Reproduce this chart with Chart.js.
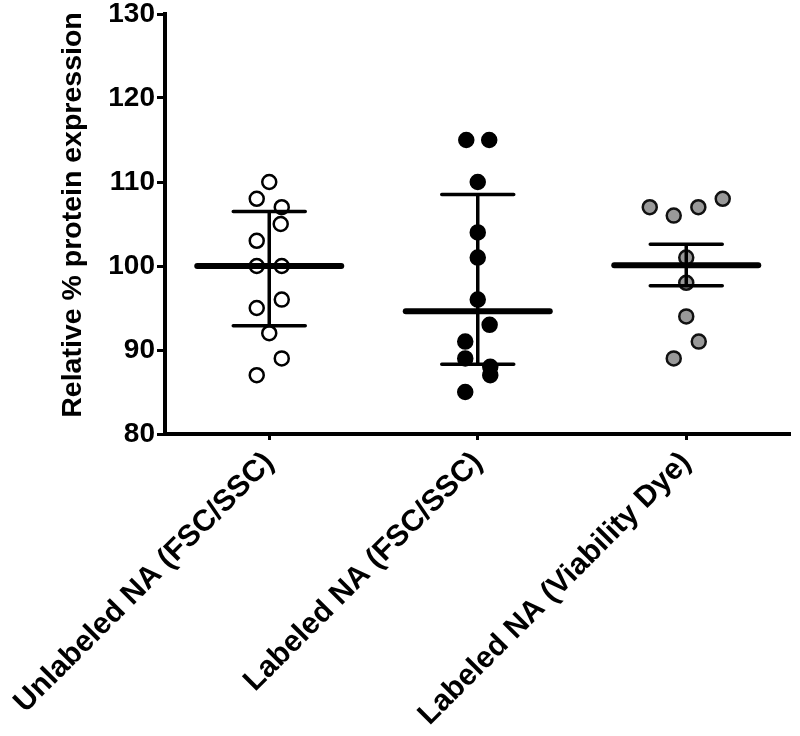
<!DOCTYPE html>
<html><head><meta charset="utf-8">
<script src="https://cdn.jsdelivr.net/npm/chart.js@4"></script>
<style>html,body{margin:0;padding:0;background:#fff}#wrap{width:800px;height:736px}</style>
</head><body><div id="wrap"><canvas id="c" width="800" height="736"></canvas></div>
<script>
const categories = ['Unlabeled NA (FSC/SSC)', 'Labeled NA (FSC/SSC)', 'Labeled NA (Viability Dye)'];
const unlabeledValues = [110, 108, 107, 105, 103, 100, 100, 96, 95, 92, 89, 87];
const unlabeledJitter = [0, -0.06, 0.06, 0.055, -0.06, -0.06, 0.06, 0.06, -0.06, 0, 0.06, -0.06];
const labeledValues = [115, 115, 110, 104, 101, 96, 93, 91, 89, 88, 87, 85];
const labeledJitter = [-0.055, 0.055, 0, 0, 0, 0, 0.057, -0.06, -0.06, 0.06, 0.06, -0.06];
const viabilityValues = [107, 106, 107, 108, 101, 98, 94, 91, 89];
const viabilityJitter = [-0.175, -0.06, 0.058, 0.175, 0, 0, 0, 0.06, -0.06];
const means = [100, 94.6, 100.1];
const errUpper = [106.5, 108.5, 102.6];
const errLower = [92.9, 88.3, 97.65];
const yTicks = [80, 90, 100, 110, 120, 130];
const yTitle = 'Relative % protein expression';

const FONT = '"Liberation Sans", Arial, sans-serif';

function pts(groupIndex, values, jitter) {
  return values.map((v, i) => ({ x: groupIndex + jitter[i], y: v }));
}

const errorBarPlugin = {
  id: 'errbars',
  afterDatasetsDraw(chart) {
    const { ctx, scales: { x, y } } = chart;
    ctx.save();
    ctx.strokeStyle = '#000';
    ctx.lineCap = 'round';
    means.forEach((m, i) => {
      const cx = x.getPixelForValue(i);
      const pu = y.getPixelForValue(errUpper[i]);
      const pl = y.getPixelForValue(errLower[i]);
      ctx.lineWidth = 3.5;
      ctx.beginPath();
      ctx.moveTo(cx, pu); ctx.lineTo(cx, pl);
      ctx.moveTo(cx - 36, pu); ctx.lineTo(cx + 36, pu);
      ctx.moveTo(cx - 36, pl); ctx.lineTo(cx + 36, pl);
      ctx.stroke();
      const pm = y.getPixelForValue(m);
      ctx.lineWidth = 6;
      ctx.beginPath();
      ctx.moveTo(cx - 72, pm); ctx.lineTo(cx + 72, pm);
      ctx.stroke();
    });
    ctx.restore();
  }
};

const yTitlePlugin = {
  id: 'ytitle',
  afterDraw(chart) {
    const { ctx, chartArea } = chart;
    ctx.save();
    ctx.translate(73, (chartArea.top + chartArea.bottom) / 2 - 9);
    ctx.rotate(-Math.PI / 2);
    ctx.font = 'bold 28.5px ' + FONT;
    ctx.fillStyle = '#000';
    ctx.textAlign = 'center';
    ctx.textBaseline = 'middle';
    ctx.fillText(yTitle, 0, 0);
    ctx.restore();
  }
};

new Chart(document.getElementById('c'), {
  type: 'scatter',
  data: {
    datasets: [
      { label: categories[0], data: pts(0, unlabeledValues, unlabeledJitter), backgroundColor: '#ffffff', borderColor: '#000', borderWidth: 2.5, pointRadius: 7 },
      { label: categories[1], data: pts(1, labeledValues, labeledJitter), backgroundColor: '#000000', borderColor: '#000', borderWidth: 2.5, pointRadius: 7 },
      { label: categories[2], data: pts(2, viabilityValues, viabilityJitter), backgroundColor: '#999999', borderColor: '#111', borderWidth: 2.5, pointRadius: 7 }
    ]
  },
  options: {
    responsive: false,
    animation: false,
    layout: { padding: { top: 14, right: 5, bottom: 0, left: 0 } },
    plugins: { legend: { display: false }, tooltip: { enabled: false } },
    scales: {
      x: {
        type: 'linear', min: -0.5, max: 2.5,
        afterBuildTicks(s) { s.ticks = categories.map((_, i) => ({ value: i })); },
        ticks: {
          autoSkip: false, minRotation: 45, maxRotation: 45, padding: 5, color: '#000',
          font: { family: FONT, size: 30, weight: 'bold' },
          callback: (v) => categories[v]
        },
        grid: { display: true, drawOnChartArea: false, drawTicks: true, tickLength: 6, tickWidth: 3, tickColor: '#000' },
        border: { display: true, width: 4, color: '#000' },
        afterFit(s) { s.paddingLeft = 0; s.paddingRight = 0; s.height = 302; }
      },
      y: {
        min: 80, max: 130,
        afterBuildTicks(s) { s.ticks = yTicks.map(v => ({ value: v })); },
        ticks: { padding: 2, color: '#000', font: { family: FONT, size: 28, weight: 'bold' } },
        grid: { display: true, drawOnChartArea: false, drawTicks: true, tickLength: 8, tickWidth: 3, tickColor: '#000' },
        border: { display: true, width: 4, color: '#000' },
        title: { display: false },
        afterFit(s) { s.width = 165; s.paddingTop = 0; s.paddingBottom = 0; }
      }
    }
  },
  plugins: [errorBarPlugin, yTitlePlugin]
});
</script>
</body></html>
